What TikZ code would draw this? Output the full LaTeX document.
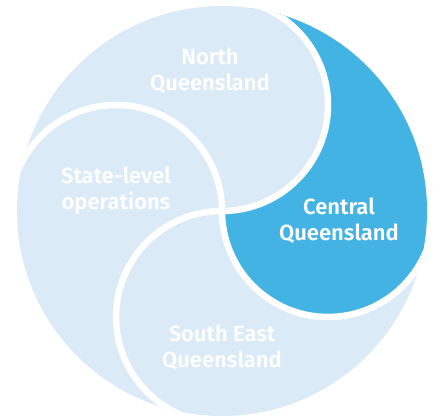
\documentclass[tikz,border=0pt]{standalone}
\usepackage{fontspec}
\newfontfamily\regfont{Fira Sans SemiBold}
\definecolor{qldpale}{RGB}{218,234,246}
\definecolor{qldblue}{RGB}{66,179,227}
\begin{document}
\begin{tikzpicture}[x=1pt,y=1pt,inner sep=0pt,outer sep=0pt,
regtext/.style={align=center,text=white,font=\regfont\fontsize{22}{26}\selectfont},
swirl/.style={draw=white,line width=6.5pt}]
\useasboundingbox (-222,-205) rectangle (211,211);
\coordinate (O) at (0,0);
\fill[qldpale] (O) circle[radius=205pt];
\begin{scope}
\clip (O) circle[radius=205pt];
% central region
\fill[qldblue] (O) arc[start angle=-90,end angle=90,radius=106pt] -- (240,240) -- (212,0)
  arc[start angle=0,end angle=-180,radius=106pt] -- cycle;
% the four white swirls
\foreach \a in {0,90,180,270}
  \draw[swirl,rotate=\a] (O) arc[start angle=-90,end angle=90,radius=106pt];
\end{scope}
\node[regtext] (north) at (-12,140) {North\\Queensland};
\node[regtext] (central) at (117,-10) {Central\\Queensland};
\node[regtext] (state) at (-106,20) {State-level\\operations};
\node[regtext] (southeast) at (0,-137) {South East\\Queensland};
\end{tikzpicture}
\end{document}
